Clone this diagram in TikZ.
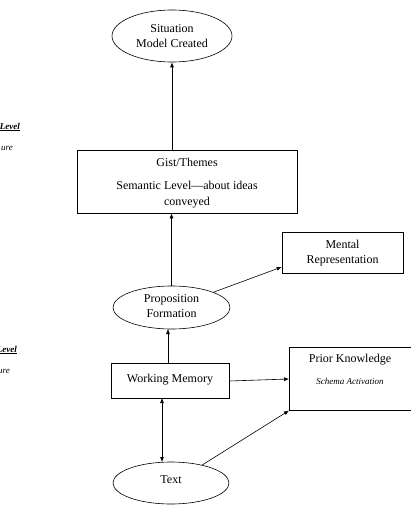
\documentclass[tikz,border=0pt]{standalone}
\usepackage{fontspec}
\setmainfont{Liberation Serif}
\usetikzlibrary{shapes.geometric,arrows.meta}
\begin{document}
\begin{tikzpicture}[x=1pt,y=-1pt,
  every node/.style={font=\fontsize{12}{14}\selectfont},
  ell/.style={draw,ellipse,inner sep=0pt,line width=0.6pt,align=center},
  boxn/.style={draw,rectangle,inner sep=0pt,line width=0.6pt},
  txt/.style={draw=none,inner sep=0pt,anchor=base,align=center},
  arr/.style={line width=0.6pt,-{Latex[length=5pt,width=4pt]}},
  darr/.style={line width=0.6pt,{Latex[length=5pt,width=4pt]}-{Latex[length=5pt,width=4pt]}},
  side/.style={inner sep=0pt,anchor=base east,font=\fontsize{9}{10}\selectfont}]
\useasboundingbox (0,0) rectangle (411,508);
\clip (0,0) rectangle (411,508);
% nodes
\node[ell,minimum width=120pt,minimum height=52pt] (sit) at (172,36) {};
\node[txt] at (172,33) {Situation};
\node[txt] at (172,48) {Model Created};

\node[boxn,minimum width=220pt,minimum height=63pt] (gist) at (187,181.5) {};
\node[txt] at (187,166) {Gist/Themes};
\node[txt] at (187,189) {Semantic Level---about ideas};
\node[txt] at (187,205) {conveyed};

\node[boxn,minimum width=121pt,minimum height=41pt] (ment) at (342.5,252.5) {};
\node[txt] at (342.5,248) {Mental};
\node[txt] at (342.5,263) {Representation};

\node[ell,minimum width=117pt,minimum height=43pt] (prop) at (171.5,307.5) {};
\node[txt] at (171.5,302) {Proposition};
\node[txt] at (171.5,317) {Formation};

\node[boxn,minimum width=118pt,minimum height=35pt] (wm) at (170,380.5) {};
\node[txt] at (170,382) {Working Memory};

\node[boxn,minimum width=140pt,minimum height=63pt,anchor=north west] (prior) at (289,347) {};
\node[txt] at (350,362) {Prior Knowledge};
\node[txt,font=\fontsize{9}{10}\selectfont\itshape] at (350,384) {Schema Activation};

\node[ell,minimum width=116pt,minimum height=42pt] (text) at (171,483) {};
\node[txt] at (171,483) {Text};

% clipped side labels
\node[side] (l1) at (20,129) {\textbf{\textit{\underline{Level}}}};
\node[side] (l2) at (13,150) {\textit{ure}};
\node[side] (l3) at (17,352) {\textbf{\textit{\underline{Level}}}};
\node[side] (l4) at (10,373) {\textit{ure}};

% connectors
\draw[arr] (gist.north -| sit.south) -- (sit.south);
\draw[arr] (prop.north) -- (prop.north |- gist.south);
\draw[arr] (prop.20) -- (ment.west |- 0,267);
\draw[arr] (wm.north -| 168,0) -- (168,329);
\draw[arr] (wm.east |- 0,381) -- (prior.west |- 0,379);
\draw[darr] (162,398) -- (162,462);
\draw[arr] (text.30) -- (prior.south west);
\end{tikzpicture}
\end{document}
